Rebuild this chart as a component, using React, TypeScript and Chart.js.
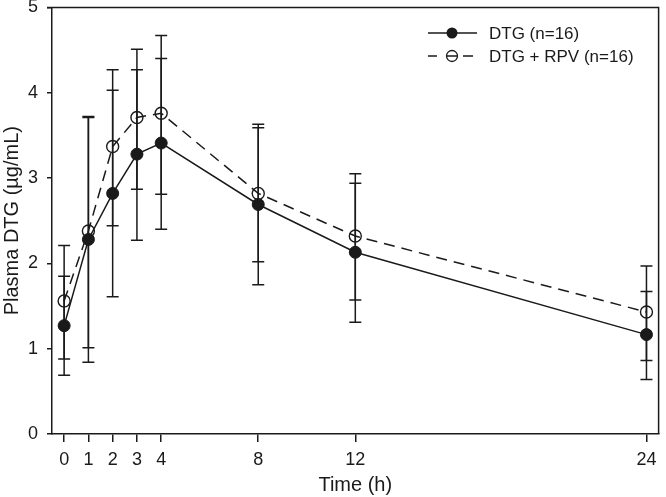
import React, { useEffect, useRef } from "react";
import { Chart, registerables } from "chart.js";

Chart.register(...registerables);

const times = [0, 1, 2, 3, 4, 8, 12, 24];
const xTickValues = [0, 1, 2, 3, 4, 8, 12, 24];
const yTickValues = [0, 1, 2, 3, 4, 5];

const dtgLabel = "DTG (n=16)";
const dtgMean = [1.27, 2.28, 2.82, 3.28, 3.41, 2.69, 2.13, 1.165];
const dtgLower = [0.69, 0.84, 1.61, 2.27, 2.4, 1.75, 1.31, 0.64];
const dtgUpper = [1.85, 3.72, 4.03, 4.27, 4.4, 3.63, 2.94, 1.67];

const rpvLabel = "DTG + RPV (n=16)";
const rpvMean = [1.56, 2.38, 3.37, 3.71, 3.76, 2.82, 2.32, 1.43];
const rpvLower = [0.88, 1.01, 2.44, 2.87, 2.81, 2.02, 1.57, 0.86];
const rpvUpper = [2.21, 3.71, 4.27, 4.51, 4.67, 3.59, 3.05, 1.97];

const FONT = "'Liberation Sans', Arial, sans-serif";
const INK = "#1a1a1a";

const errorBarPlugin = {
  id: "errorBars",
  beforeDatasetsDraw(chart: any) {
    const { ctx, scales } = chart;
    const xs = scales.x;
    const ys = scales.y;
    const groups = [
      { lo: dtgLower, hi: dtgUpper },
      { lo: rpvLower, hi: rpvUpper },
    ];
    ctx.save();
    ctx.strokeStyle = INK;
    ctx.lineWidth = 1.5;
    ctx.setLineDash([]);
    groups.forEach((g) => {
      times.forEach((t, i) => {
        const x = xs.getPixelForValue(t);
        const y1 = ys.getPixelForValue(g.lo[i]);
        const y2 = ys.getPixelForValue(g.hi[i]);
        ctx.beginPath();
        ctx.moveTo(x, y1);
        ctx.lineTo(x, y2);
        ctx.moveTo(x - 6, y1);
        ctx.lineTo(x + 6, y1);
        ctx.moveTo(x - 6, y2);
        ctx.lineTo(x + 6, y2);
        ctx.stroke();
      });
    });
    ctx.restore();
  },
};

const framePlugin = {
  id: "frame",
  afterDraw(chart: any) {
    const { ctx, chartArea } = chart;
    ctx.save();
    ctx.strokeStyle = INK;
    ctx.lineWidth = 1.5;
    ctx.setLineDash([]);
    ctx.beginPath();
    ctx.moveTo(chartArea.left - 5, chartArea.top);
    ctx.lineTo(chartArea.right, chartArea.top);
    ctx.lineTo(chartArea.right, chartArea.bottom);
    ctx.stroke();

    // legend
    const rows = [
      { label: chart.data.datasets[0].label, y: 33, filled: true },
      { label: chart.data.datasets[1].label, y: 56, filled: false },
    ];
    ctx.font = `17px ${FONT}`;
    ctx.fillStyle = INK;
    ctx.textBaseline = "middle";
    ctx.textAlign = "left";
    rows.forEach((r) => {
      ctx.lineWidth = 1.5;
      ctx.beginPath();
      if (r.filled) {
        ctx.moveTo(428, r.y);
        ctx.lineTo(477, r.y);
      } else {
        ctx.moveTo(428, r.y);
        ctx.lineTo(437, r.y);
        ctx.moveTo(446, r.y);
        ctx.lineTo(458, r.y);
        ctx.moveTo(463, r.y);
        ctx.lineTo(473, r.y);
      }
      ctx.stroke();
      ctx.beginPath();
      ctx.arc(452, r.y, 5.5, 0, Math.PI * 2);
      if (r.filled) {
        ctx.fill();
      } else {
        ctx.lineWidth = 1.3;
        ctx.stroke();
      }
      ctx.fillText(r.label, 489, r.y + 1);
    });
    ctx.restore();
  },
};

export default function App() {
  const ref = useRef<HTMLCanvasElement | null>(null);

  useEffect(() => {
    document.body.style.margin = "0";
    const canvas = ref.current;
    if (!canvas) return;
    const chart = new Chart(canvas, {
      type: "line",
      data: {
        datasets: [
          {
            label: dtgLabel,
            data: times.map((t, i) => ({ x: t, y: dtgMean[i] })),
            borderColor: INK,
            backgroundColor: INK,
            borderWidth: 1.5,
            pointRadius: 6,
            pointBackgroundColor: INK,
            pointBorderColor: INK,
            pointBorderWidth: 1,
            tension: 0,
          },
          {
            label: rpvLabel,
            data: times.map((t, i) => ({ x: t, y: rpvMean[i] })),
            borderColor: INK,
            backgroundColor: "rgba(0,0,0,0)",
            borderWidth: 1.5,
            borderDash: [11, 7],
            pointRadius: 6,
            pointBackgroundColor: "rgba(0,0,0,0)",
            pointBorderColor: INK,
            pointBorderWidth: 1.4,
            tension: 0,
          },
        ],
      },
      options: {
        animation: false,
        responsive: false,
        maintainAspectRatio: false,
        layout: { padding: { top: 6, right: 2, left: 0, bottom: 0 } },
        plugins: {
          legend: { display: false },
          tooltip: { enabled: false },
        },
        scales: {
          x: {
            type: "linear",
            min: -0.5,
            max: 24.5,
            afterBuildTicks: (scale: any) => {
              scale.ticks = xTickValues.map((v) => ({ value: v }));
            },
            afterFit: (scale: any) => {
              scale.height = 63;
              scale.paddingLeft = 0;
              scale.paddingRight = 0;
            },
            grid: {
              display: true,
              drawOnChartArea: false,
              drawTicks: true,
              tickLength: 8,
              color: INK,
              lineWidth: 1.5,
            },
            border: { display: true, color: INK, width: 1.5 },
            ticks: {
              font: { size: 18, family: FONT },
              color: INK,
              padding: 7,
              maxRotation: 0,
              autoSkip: false,
              callback: (v: any) => String(v),
            },
            title: {
              display: true,
              text: "Time (h)",
              font: { size: 20, family: FONT },
              color: INK,
              padding: { top: 0, bottom: 0 },
            },
          },
          y: {
            min: 0,
            max: 5,
            afterBuildTicks: (scale: any) => {
              scale.ticks = yTickValues.map((v) => ({ value: v }));
            },
            afterFit: (scale: any) => {
              scale.width = 52;
              scale.paddingTop = 0;
              scale.paddingBottom = 0;
            },
            grid: {
              display: true,
              drawOnChartArea: false,
              drawTicks: true,
              tickLength: 5,
              color: INK,
              lineWidth: 1.5,
            },
            border: { display: true, color: INK, width: 1.5 },
            ticks: {
              font: { size: 18, family: FONT },
              color: INK,
              padding: 9,
              callback: (v: any) => String(v),
            },
            title: {
              display: true,
              text: "Plasma DTG (µg/mL)",
              font: { size: 20, family: FONT },
              color: INK,
              padding: { top: 0, bottom: 0 },
            },
          },
        },
      },
      plugins: [errorBarPlugin, framePlugin],
    });
    return () => chart.destroy();
  }, []);

  return (
    <div style={{ position: "absolute", left: 0, top: 0, width: 666, height: 497 }}>
      <canvas ref={ref} width={666} height={497} style={{ width: 666, height: 497 }} />
    </div>
  );
}
